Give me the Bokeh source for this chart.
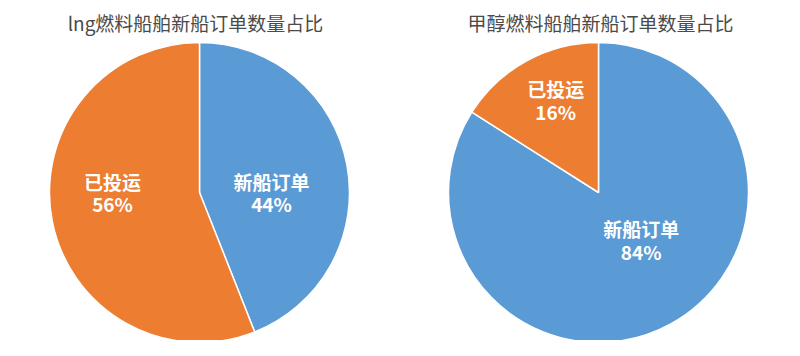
import numpy as np
from bokeh.plotting import figure
from bokeh.models import Range1d, ColumnDataSource
from bokeh.core.properties import value
from bokeh.embed import file_html
from bokeh.resources import INLINE

# ---- data ----
categories = ["新船订单", "已投运"]
lng_share = [44, 56]
methanol_share = [84, 16]
chart_titles = ["lng燃料船舶新船订单数量占比", "甲醇燃料船舶新船订单数量占比"]

# ---- style / layout ----
colors = ["#5B9BD5", "#ED7D31"]
W, H = 784, 340
R = 150
centers = [(199, 148), (598, 148)]
title_pos = [(195, 318), (600, 318)]
label_r = [[72, 87], [64, 102]]            # label distance from centre (px)
label_rot = [[-10.8, -10.8], [13.0, -4.0]]  # label angle tweak (deg)
FONT = "Noto Sans CJK SC"

p = figure(width=W, height=H, x_range=Range1d(0, W), y_range=Range1d(0, H),
           output_backend="svg", toolbar_location=None, min_border=0)
p.axis.visible = False
p.grid.visible = False
p.outline_line_color = None
p.background_fill_color = "white"
p.border_fill_color = "white"

for k, shares in enumerate([lng_share, methanol_share]):
    cx, cy = centers[k]
    vals = np.array(shares, dtype=float)
    frac = vals / vals.sum()
    cum = np.concatenate([[0.0], np.cumsum(frac)])
    start = np.pi / 2 - 2 * np.pi * cum[:-1]
    end = np.pi / 2 - 2 * np.pi * cum[1:]
    src = ColumnDataSource(dict(x=[cx] * len(vals), y=[cy] * len(vals),
                                start=start, end=end, color=colors))
    p.wedge(x="x", y="y", radius=R, start_angle="start", end_angle="end",
            direction="clock", fill_color="color", line_color="white",
            line_width=1.5, source=src)
    mid = (start + end) / 2 + np.radians(label_rot[k])
    lr = np.array(label_r[k], dtype=float)
    lx = cx + lr * np.cos(mid)
    ly = cy + lr * np.sin(mid)
    texts = [f"{c}\n{int(v)}%" for c, v in zip(categories, shares)]
    p.text(x=list(lx), y=list(ly), text=texts, text_align="center",
           text_baseline="middle", text_color="white",
           text_font=value(FONT), text_font_style="bold",
           text_font_size="19px", text_line_height=0.85)
    tx, ty = title_pos[k]
    p.text(x=[tx], y=[ty], text=[chart_titles[k]], text_align="center",
           text_baseline="middle", text_color="#4a4a4a",
           text_font=value(FONT), text_font_size="19px")

open("out.html", "w").write(file_html(p, INLINE))
